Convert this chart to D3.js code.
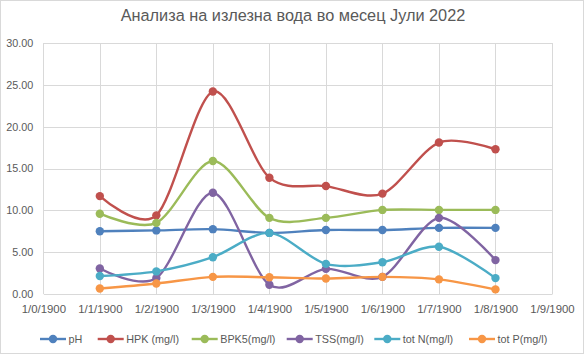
<!DOCTYPE html>
<html>
<head>
<meta charset="utf-8">
<script src="https://cdn.jsdelivr.net/npm/d3@7"></script>
<style>
  body { margin: 0; background: #fff; }
  text { font-family: "Liberation Sans", Arial, sans-serif; fill: #595959; }
</style>
</head>
<body>
<div id="chart"></div>
<script>
// data
const dates = ["1/0/1900", "1/1/1900", "1/2/1900", "1/3/1900", "1/4/1900",
               "1/5/1900", "1/6/1900", "1/7/1900", "1/8/1900", "1/9/1900"];
const seriesNames = ["pH", "HPK (mg/l)", "BPK5(mg/l)", "TSS(mg/l)", "tot N(mg/l)", "tot P(mg/l)"];
const seriesColors = ["#4F81BD", "#C0504D", "#9BBB59", "#8064A2", "#4BACC6", "#F79646"];
const pH   = [7.5, 7.6, 7.75, 7.3, 7.65, 7.65, 7.9, 7.9];
const hpk  = [11.7, 9.4, 24.2, 13.9, 12.9, 12.0, 18.1, 17.3];
const bpk5 = [9.6, 8.5, 15.9, 9.1, 9.1, 10.05, 10.05, 10.05];
const tss  = [3.05, 1.9, 12.1, 1.1, 3.0, 2.05, 9.1, 4.05];
const totN = [2.15, 2.7, 4.4, 7.3, 3.6, 3.8, 5.65, 1.9];
const totP = [0.65, 1.25, 2.05, 2.0, 1.85, 2.05, 1.75, 0.55];
const yTicks = [0, 5, 10, 15, 20, 25, 30];

const allSeries = [pH, hpk, bpk5, tss, totN, totP];

const width = 585, height = 355;
const svg = d3.select("#chart").append("svg")
    .attr("width", width)
    .attr("height", height);

// chart border
svg.append("rect")
    .attr("x", 0.5).attr("y", 0.5)
    .attr("width", width - 2).attr("height", height - 2)
    .attr("fill", "#fff")
    .attr("stroke", "#d9d9d9");

// title
svg.append("text")
    .attr("x", 293).attr("y", 21)
    .attr("text-anchor", "middle")
    .style("font-size", "16.3px")
    .text("Анализа на излезна вода во месец Јули 2022");

// scales
const x = d3.scaleLinear().domain([0, 9]).range([43.3, 552]);
const y = d3.scaleLinear().domain([0, 30]).range([294, 43]);

// gridlines
svg.append("g").selectAll("line")
    .data(yTicks.slice(1))
    .join("line")
    .attr("x1", x(0)).attr("x2", x(9))
    .attr("y1", d => Math.round(y(d)) + 0.5).attr("y2", d => Math.round(y(d)) + 0.5)
    .attr("stroke", "#d9d9d9");

svg.append("g").selectAll("line")
    .data(d3.range(dates.length))
    .join("line")
    .attr("x1", d => Math.round(x(d)) + 0.5).attr("x2", d => Math.round(x(d)) + 0.5)
    .attr("y1", y(0)).attr("y2", y(30))
    .attr("stroke", "#d9d9d9");

// axes
const yAxis = d3.axisLeft(y)
    .tickValues(yTicks)
    .tickFormat(d3.format(".2f"))
    .tickSize(0)
    .tickPadding(10);
svg.append("g")
    .attr("transform", "translate(" + x(0) + ",0)")
    .call(yAxis)
    .call(g => g.select(".domain").remove())
    .selectAll("text")
    .style("font-size", "10.8px")
    .attr("fill", "#595959");

const xAxis = d3.axisBottom(x)
    .tickValues(d3.range(dates.length))
    .tickFormat(i => dates[i])
    .tickSize(0)
    .tickPadding(11);
svg.append("g")
    .attr("transform", "translate(0," + y(0) + ")")
    .call(xAxis)
    .call(g => g.select(".domain").attr("stroke", "#d9d9d9"))
    .selectAll("text")
    .style("font-size", "11.4px")
    .attr("fill", "#595959");

// lines
const line = d3.line()
    .x((d, i) => x(i + 1))
    .y(d => y(d))
    .curve(d3.curveCardinal.tension(0.1));

allSeries.forEach((vals, k) => {
    svg.append("path")
        .datum(vals)
        .attr("fill", "none")
        .attr("stroke", seriesColors[k])
        .attr("stroke-width", 2.4)
        .attr("d", line);
});

allSeries.forEach((vals, k) => {
    svg.append("g").selectAll("circle")
        .data(vals)
        .join("circle")
        .attr("cx", (d, i) => x(i + 1))
        .attr("cy", d => y(d))
        .attr("r", 4.2)
        .attr("fill", seriesColors[k]);
});

// legend
const legendX = [40, 97.7, 191.7, 286.7, 374.3, 469];
const legend = svg.append("g");
seriesNames.forEach((name, k) => {
    const g = legend.append("g").attr("transform", "translate(" + legendX[k] + ",339)");
    g.append("line")
        .attr("x1", 0).attr("x2", 26)
        .attr("stroke", seriesColors[k])
        .attr("stroke-width", 2.4);
    g.append("circle")
        .attr("cx", 13).attr("r", 4.2)
        .attr("fill", seriesColors[k]);
    g.append("text")
        .attr("x", 28.5).attr("y", 4)
        .style("font-size", "10.8px")
        .text(name);
});
</script>
</body>
</html>
